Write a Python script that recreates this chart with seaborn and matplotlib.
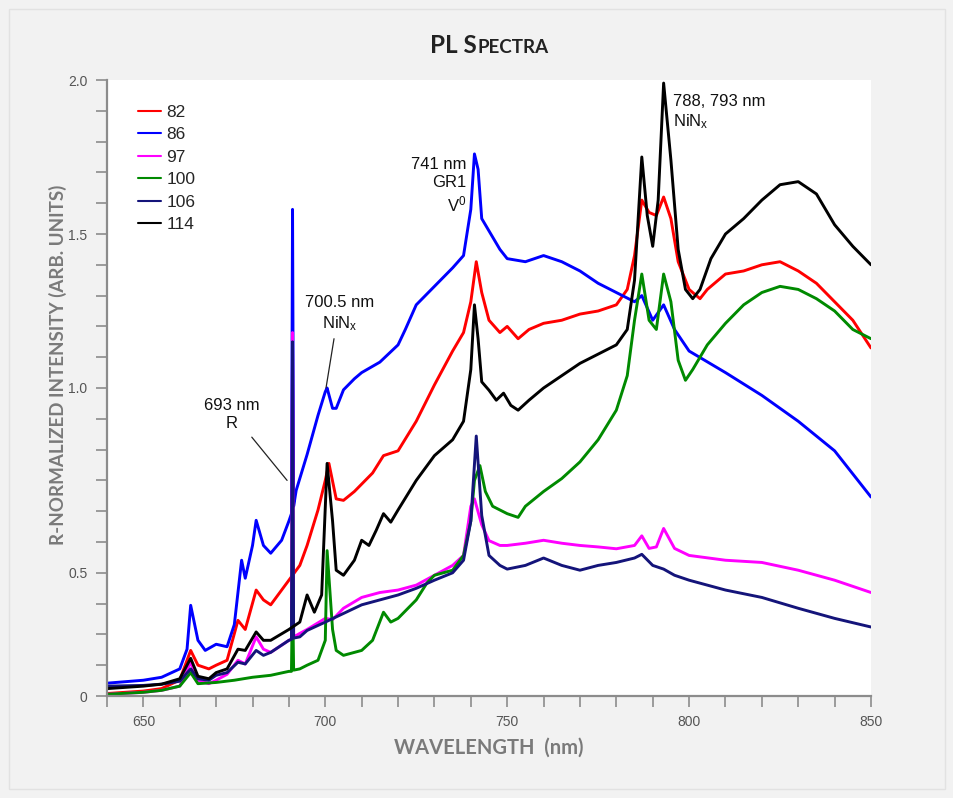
import numpy as np
import pandas as pd
import matplotlib
matplotlib.use("Agg")
import matplotlib.pyplot as plt
import seaborn as sns

# ---------------- data ----------------
series_names = ["82", "86", "97", "100", "106", "114"]
series_colors = ["#ff0000", "#0000ff", "#ff00ff", "#008a00", "#14147a", "#000000"]

x_82 = [640, 650, 655, 660, 663, 665, 668, 670, 673, 676, 678, 681, 683, 685, 690, 693, 695, 698, 700, 701,
        703, 705, 708, 710, 713, 716, 720, 725, 730, 735, 738, 740, 741.5, 743, 745, 748, 750, 753, 756, 760,
        765, 770, 775, 780, 783, 785, 787, 789, 791, 793, 795, 797, 800, 803, 805, 810, 815, 820, 825, 830,
        835, 840, 845, 850]
y_82 = [0.01, 0.02, 0.03, 0.065, 0.185, 0.125, 0.11, 0.125, 0.145, 0.307, 0.27, 0.43, 0.39, 0.37, 0.47, 0.52,
        0.574, 0.67, 0.75, 0.796, 0.70, 0.696, 0.72, 0.74, 0.77, 0.817, 0.83, 0.91, 1.01, 1.12, 1.18, 1.28, 1.41,
        1.31, 1.22, 1.18, 1.20, 1.16, 1.19, 1.21, 1.22, 1.24, 1.25, 1.27, 1.32, 1.43, 1.61, 1.57, 1.56, 1.62,
        1.55, 1.41, 1.32, 1.29, 1.32, 1.37, 1.38, 1.40, 1.41, 1.38, 1.34, 1.28, 1.22, 1.13]

x_86 = [640, 650, 655, 660, 662, 663, 665, 667, 670, 673, 675, 677, 678, 680, 681, 683, 685, 688, 690, 690.7,
        691, 691.3, 692, 695, 698, 700, 700.5, 702, 703, 705, 708, 710, 715, 720, 722, 725, 730, 735, 738, 740,
        741, 742, 743, 745, 748, 750, 755, 760, 765, 770, 775, 780, 785, 787, 790, 793, 796, 800, 810, 820,
        830, 840, 850]
y_86 = [0.052, 0.064, 0.076, 0.11, 0.19, 0.368, 0.226, 0.185, 0.21, 0.20, 0.29, 0.534, 0.478, 0.574, 0.642,
        0.574, 0.553, 0.588, 0.64, 0.66, 1.58, 0.68, 0.723, 0.82, 0.926, 0.99, 1.0, 0.945, 0.945, 0.995, 1.03,
        1.05, 1.084, 1.14, 1.19, 1.27, 1.33, 1.39, 1.43, 1.58, 1.76, 1.71, 1.55, 1.51, 1.45, 1.42, 1.41, 1.43,
        1.41, 1.38, 1.34, 1.31, 1.28, 1.30, 1.22, 1.27, 1.19, 1.12, 1.05, 0.98, 0.91, 0.83, 0.705]

x_97 = [640, 650, 655, 660, 663, 665, 668, 670, 673, 676, 678, 681, 683, 685, 690, 690.7, 691, 691.3, 693,
        695, 700, 702, 705, 710, 715, 720, 725, 730, 735, 738, 740, 741, 743, 745, 748, 750, 755, 760, 765,
        770, 775, 780, 785, 787, 789, 791, 793, 796, 800, 810, 820, 830, 840, 850]
y_97 = [0.007, 0.015, 0.023, 0.04, 0.137, 0.064, 0.05, 0.064, 0.088, 0.145, 0.13, 0.24, 0.19, 0.177, 0.226,
        0.23, 1.18, 0.24, 0.254, 0.27, 0.315, 0.31, 0.356, 0.40, 0.42, 0.43, 0.45, 0.49, 0.52, 0.547, 0.68,
        0.70, 0.63, 0.587, 0.574, 0.574, 0.58, 0.588, 0.58, 0.574, 0.57, 0.565, 0.574, 0.60, 0.566, 0.57,
        0.62, 0.566, 0.547, 0.534, 0.528, 0.507, 0.47, 0.42]

x_100 = [640, 650, 655, 660, 663, 665, 670, 675, 680, 685, 690, 690.7, 691, 691.3, 693, 695, 698, 700, 700.5,
         702, 703, 705, 710, 713, 716, 718, 720, 725, 728, 730, 735, 738, 740, 741, 742.5, 744, 746, 750, 753,
         755, 760, 765, 770, 775, 780, 783, 785, 787, 789, 791, 793, 795, 797, 799, 801, 805, 810, 815, 820,
         825, 830, 835, 840, 845, 850]
y_100 = [0.007, 0.015, 0.023, 0.04, 0.095, 0.05, 0.055, 0.064, 0.076, 0.084, 0.10, 0.10, 0.43, 0.105, 0.11,
         0.125, 0.145, 0.226, 0.56, 0.27, 0.185, 0.165, 0.185, 0.226, 0.34, 0.30, 0.315, 0.39, 0.46, 0.49, 0.507,
         0.547, 0.64, 0.75, 0.79, 0.72, 0.68, 0.66, 0.65, 0.68, 0.72, 0.755, 0.80, 0.86, 0.94, 1.04, 1.22, 1.37,
         1.22, 1.19, 1.37, 1.28, 1.09, 1.025, 1.06, 1.14, 1.21, 1.27, 1.31, 1.33, 1.32, 1.29, 1.25, 1.19, 1.16]

x_106 = [640, 650, 655, 660, 663, 665, 668, 670, 673, 676, 678, 681, 683, 685, 690, 690.7, 691, 691.3, 693,
         695, 700, 705, 710, 715, 720, 725, 730, 735, 738, 740, 741.5, 743, 745, 748, 750, 755, 760, 765, 770,
         775, 780, 785, 787, 790, 793, 796, 800, 810, 820, 830, 840, 850]
y_106 = [0.04, 0.043, 0.048, 0.06, 0.11, 0.07, 0.064, 0.084, 0.095, 0.137, 0.13, 0.185, 0.165, 0.177, 0.226,
         0.23, 1.15, 0.235, 0.24, 0.266, 0.30, 0.335, 0.37, 0.39, 0.41, 0.437, 0.47, 0.50, 0.534, 0.64, 0.87,
         0.655, 0.547, 0.52, 0.51, 0.52, 0.54, 0.52, 0.507, 0.52, 0.528, 0.54, 0.55, 0.52, 0.51, 0.49, 0.47,
         0.43, 0.40, 0.356, 0.315, 0.28]

x_114 = [640, 650, 655, 660, 663, 665, 668, 670, 673, 676, 678, 681, 683, 685, 690, 693, 695, 697, 699, 700.5,
         702, 703, 705, 708, 710, 712, 714, 716, 718, 720, 725, 730, 735, 738, 740, 741, 742, 743, 745, 747,
         749, 751, 753, 756, 760, 765, 770, 775, 780, 783, 785, 787, 788.5, 790, 791.5, 793, 795, 797, 799,
         801, 803, 806, 810, 815, 820, 825, 830, 835, 840, 845, 850]
y_114 = [0.03, 0.04, 0.048, 0.07, 0.153, 0.08, 0.07, 0.095, 0.11, 0.19, 0.185, 0.26, 0.226, 0.226, 0.27, 0.30,
         0.41, 0.34, 0.41, 0.796, 0.64, 0.507, 0.49, 0.534, 0.588, 0.574, 0.615, 0.66, 0.637, 0.67, 0.75, 0.817,
         0.86, 0.91, 1.06, 1.27, 1.16, 1.02, 0.994, 0.967, 0.986, 0.953, 0.94, 0.967, 1.0, 1.04, 1.08, 1.11,
         1.14, 1.19, 1.35, 1.75, 1.56, 1.46, 1.61, 1.99, 1.74, 1.45, 1.32, 1.29, 1.32, 1.42, 1.50, 1.55, 1.61,
         1.66, 1.67, 1.63, 1.53, 1.46, 1.40]

x_arrays = [x_82, x_86, x_97, x_100, x_106, x_114]
y_arrays = [y_82, y_86, y_97, y_100, y_106, y_114]

x_ticks_major = [650, 700, 750, 800, 850]
y_tick_values = [0, 0.5, 1.0, 1.5, 2.0]
y_tick_labels = ["0", "0.5", "1.0", "1.5", "2.0"]

# piecewise axis of the original chart (labels 0, 0.5, 1.0, 2.0 at ticks 0, 4, 10, 20)
scale_values = [0.0, 0.5, 1.0, 2.0]
scale_ticks = [0.0, 4.0, 10.0, 20.0]

# ---------------- build tidy table ----------------
frames = []
for name, xs, ys in zip(series_names, x_arrays, y_arrays):
    frames.append(pd.DataFrame({"wl": xs, "inten": ys, "sample": name}))
df = pd.concat(frames, ignore_index=True)

sns.set_theme(style="white")
plt.rcParams["font.family"] = ["Liberation Sans", "DejaVu Sans"]
plt.rcParams["mathtext.fontset"] = "custom"
plt.rcParams["mathtext.rm"] = "Liberation Sans"
plt.rcParams["mathtext.it"] = "Liberation Sans"

W, H = 954, 798
fig = plt.figure(figsize=(W / 100, H / 100), dpi=100, facecolor="#f2f2f2")
ax = fig.add_axes([107 / W, 1 - 696 / H, (871 - 107) / W, (696 - 80) / H])
ax.set_facecolor("white")

def fwd(v):
    return np.interp(v, scale_values, scale_ticks)

def inv(t):
    return np.interp(t, scale_ticks, scale_values)

ax.set_yscale("function", functions=(fwd, inv))

palette = dict(zip(series_names, series_colors))
sns.lineplot(data=df, x="wl", y="inten", hue="sample", hue_order=series_names, palette=palette,
             estimator=None, sort=False, linewidth=2.1, ax=ax)

ax.set_xlim(640, 850)
ax.set_ylim(0, 2.0)

# ticks
ax.set_xticks(x_ticks_major)
ax.set_xticks(np.arange(640, 851, 10), minor=True)
ax.set_yticks(y_tick_values)
ax.set_yticklabels(y_tick_labels)
ax.set_yticks([inv(t) for t in range(21)], minor=True)
ax.yaxis.set_minor_formatter(matplotlib.ticker.NullFormatter())
for s in ["top", "right"]:
    ax.spines[s].set_visible(False)
for s in ["left", "bottom"]:
    ax.spines[s].set_color("#8c8c8c")
    ax.spines[s].set_linewidth(1.6)
ax.tick_params(which="both", direction="out", length=8, width=1.2, color="#8c8c8c",
               left=True, bottom=True)
ax.tick_params(axis="both", which="major", labelsize=10, labelcolor="#555555", pad=6)
ax.set_xlabel("")
ax.set_ylabel("")

# legend
leg = ax.legend(loc="upper left", bbox_to_anchor=(0.02, 0.985), frameon=False, fontsize=12.5,
                handlelength=1.35, handletextpad=0.3, labelspacing=0.42)
for line in leg.get_lines():
    line.set_linewidth(1.5)

# annotations
txt_kw = dict(fontsize=12, color="#111111")
ax.text(674.3, 0.885, "693 nm\nR", ha="center", va="bottom", linespacing=1.25, **txt_kw)
ax.annotate("", xy=(689.5, 0.75), xytext=(679.8, 0.867),
            arrowprops=dict(arrowstyle="-", color="#222222", lw=0.9, shrinkA=0, shrinkB=0))
ax.text(704.0, 1.18, "700.5 nm\nNiN$_\\mathrm{x}$", ha="center", va="bottom", linespacing=1.25, **txt_kw)
ax.annotate("", xy=(700.2, 1.0), xytext=(702.4, 1.16),
            arrowprops=dict(arrowstyle="-", color="#222222", lw=0.9, shrinkA=0, shrinkB=0))
ax.text(738.9, 1.75, "741 nm\nGR1\nV$^0$", ha="right", va="top", linespacing=1.25, **txt_kw)
ax.text(795.5, 1.955, "788, 793 nm\nNiN$_\\mathrm{x}$", ha="left", va="top", linespacing=1.25, **txt_kw)

# axis titles
lab_kw = dict(fontweight="bold", color="#7a7a7a", family=["Lato", "DejaVu Sans"])
fig.text(58 / W, 1 - 365 / H, "R-NORMALIZED INTENSITY (ARB. UNITS)", rotation=90,
         ha="center", va="center", fontsize=13.5, **lab_kw)
fig.text(489 / W, 1 - 748 / H, "WAVELENGTH  (nm)", ha="center", va="center", fontsize=14.5, **lab_kw)

# title with small caps
r = fig.canvas.get_renderer()
ty = 1 - 53 / H
t1 = fig.text(0, ty, "PL S", fontsize=17.5, fontweight="bold", color="#222222",
              family=["Lato", "DejaVu Sans"], va="baseline", ha="left")
t2 = fig.text(0, ty, "PECTRA", fontsize=13.5, fontweight="bold", color="#222222",
              family=["Lato", "DejaVu Sans"], va="baseline", ha="left")
w1 = t1.get_window_extent(r).width
w2 = t2.get_window_extent(r).width
x0 = 489 - (w1 + w2) / 2
t1.set_x(x0 / W)
t2.set_x((x0 + w1 + 1) / W)

# thin frame
fig.patches.append(matplotlib.patches.Rectangle((9 / W, 9 / H), 1 - 18 / W, 1 - 18 / H,
                                                transform=fig.transFigure, fill=False,
                                                edgecolor="#e2e2e2", linewidth=1.0))

fig.savefig("out.png", dpi=100, facecolor=fig.get_facecolor())
